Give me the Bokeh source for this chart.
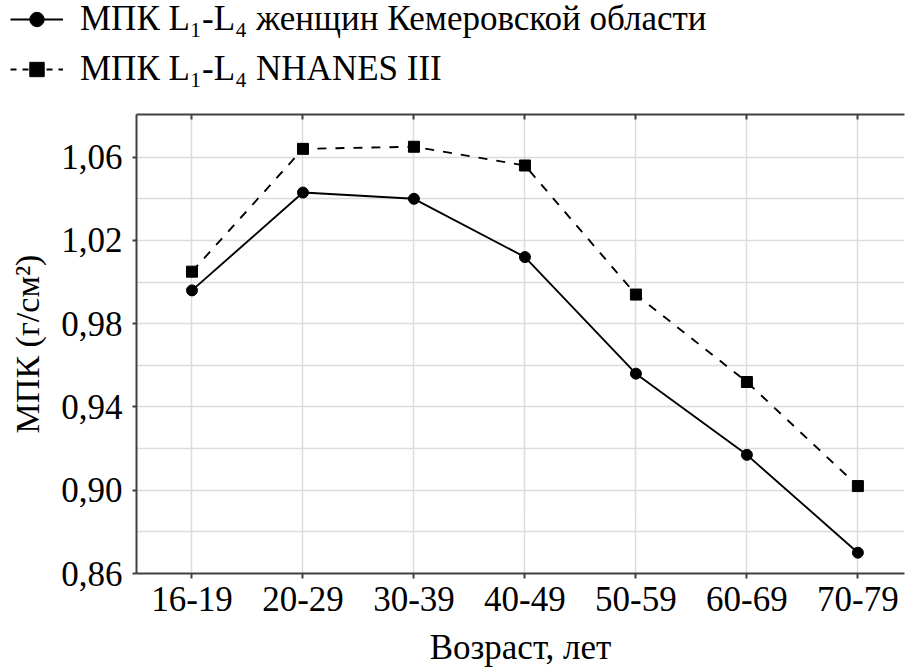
import numpy as np
from bokeh.plotting import figure
from bokeh.layouts import column
from bokeh.models import (FixedTicker, CustomJSTickFormatter, LinearAxis, Legend, Range1d)
from bokeh.embed import file_html
from bokeh.resources import INLINE

categories = ["16-19", "20-29", "30-39", "40-49", "50-59", "60-69", "70-79"]
kemerovo = [0.996, 1.043, 1.040, 1.012, 0.956, 0.917, 0.870]
nhanes = [1.005, 1.064, 1.065, 1.056, 0.994, 0.952, 0.902]
y_major = [0.86, 0.90, 0.94, 0.98, 1.02, 1.06]
y_minor = [0.88, 0.92, 0.96, 1.00, 1.04]
label_kem = "МПК L₁-L₄ женщин Кемеровской области"
label_nh = "МПК L₁-L₄ NHANES III"

x = list(range(len(categories)))
FONT = "Liberation Serif"


def add_series(fig, size, lw, dash):
    a = fig.line(x, kemerovo, line_color="black", line_width=lw)
    b = fig.scatter(x, kemerovo, marker="circle", size=size, fill_color="black", line_color="black")
    c = fig.line(x, nhanes, line_color="black", line_width=lw, line_dash=dash)
    d = fig.scatter(x, nhanes, marker="square", size=size, fill_color="black", line_color="black")
    return a, b, c, d


# ---------- legend strip (series data lie outside its visible range) ----------
leg = figure(width=905, height=104, output_backend="svg", toolbar_location=None,
             x_range=Range1d(100, 101), y_range=Range1d(100, 101),
             min_border_left=0, min_border_right=0, min_border_top=0, min_border_bottom=0)
leg.frame_align = False
leg.axis.visible = False
leg.grid.visible = False
leg.outline_line_color = None
l1, l2, l3, l4 = add_series(leg, 6, 2, "6 6")
legend = Legend(items=[(label_kem, [l1, l2]), (label_nh, [l3, l4])],
                location=(10, 15), orientation="vertical",
                glyph_width=53, glyph_height=36, label_height=36, spacing=10,
                label_standoff=17, padding=0, margin=0,
                border_line_color=None, background_fill_alpha=0,
                label_text_font=FONT, label_text_font_size="35px", label_text_color="black")
leg.add_layout(legend, "center")

# ---------- main chart ----------
p = figure(width=905, height=566, output_backend="svg", toolbar_location=None,
           x_range=Range1d(-0.5, 6.42), y_range=Range1d(0.86, 1.0805),
           frame_width=768, frame_height=459,
           min_border_left=136, min_border_right=1, min_border_top=10, min_border_bottom=97)
p.frame_align = False
p.outline_line_color = None
p.background_fill_color = "white"
p.border_fill_color = "white"

add_series(p, 11, 1.9, "9 9")

p.xaxis.ticker = FixedTicker(ticks=x)
p.xaxis.formatter = CustomJSTickFormatter(args=dict(cats=categories), code="return cats[Math.round(tick)] || '';")
p.yaxis.ticker = FixedTicker(ticks=y_major, minor_ticks=y_minor)
p.yaxis.formatter = CustomJSTickFormatter(code="return tick.toFixed(2).replace('.', ',');")

for ax in (p.xaxis[0], p.yaxis[0]):
    ax.axis_line_color = "#404040"
    ax.axis_line_width = 2
    ax.major_tick_line_color = "#404040"
    ax.major_tick_line_width = 2
    ax.minor_tick_line_color = None
    ax.major_label_text_font = FONT
    ax.major_label_text_font_size = "35px"
    ax.major_label_text_color = "black"
    ax.axis_label_text_font = FONT
    ax.axis_label_text_font_size = "35px"
    ax.axis_label_text_font_style = "normal"
    ax.axis_label_text_color = "black"

p.xaxis.major_tick_in = 0
p.xaxis.major_tick_out = 5
p.xaxis.major_label_standoff = 8
p.xaxis.axis_label = "Возраст, лет"
p.xaxis.axis_label_standoff = 14

p.yaxis.major_tick_in = 0
p.yaxis.major_tick_out = 4
p.yaxis.major_label_standoff = 10
p.yaxis.axis_label = "МПК (г/см²)"
p.yaxis.axis_label_standoff = 12
p.yaxis.axis_label_text_font_size = "34px"

top_ax = LinearAxis(ticker=FixedTicker(ticks=x), major_label_text_font_size="0px",
                    axis_line_color="#404040", axis_line_width=2,
                    major_tick_line_color="#404040", major_tick_line_width=2,
                    major_tick_in=5, major_tick_out=0, minor_tick_line_color=None,
                    major_label_standoff=0)
top_ax.major_label_text_color = None
p.add_layout(top_ax, "above")

p.xgrid.ticker = FixedTicker(ticks=x)
p.xgrid.grid_line_color = "#dcdcdc"
p.xgrid.grid_line_width = 1.5
p.ygrid.grid_line_color = "#dcdcdc"
p.ygrid.grid_line_width = 1.5
p.ygrid.minor_grid_line_color = "#dcdcdc"
p.ygrid.minor_grid_line_width = 1.5

layout = column(leg, p, spacing=0)
open("out.html", "w").write(file_html(layout, INLINE))
